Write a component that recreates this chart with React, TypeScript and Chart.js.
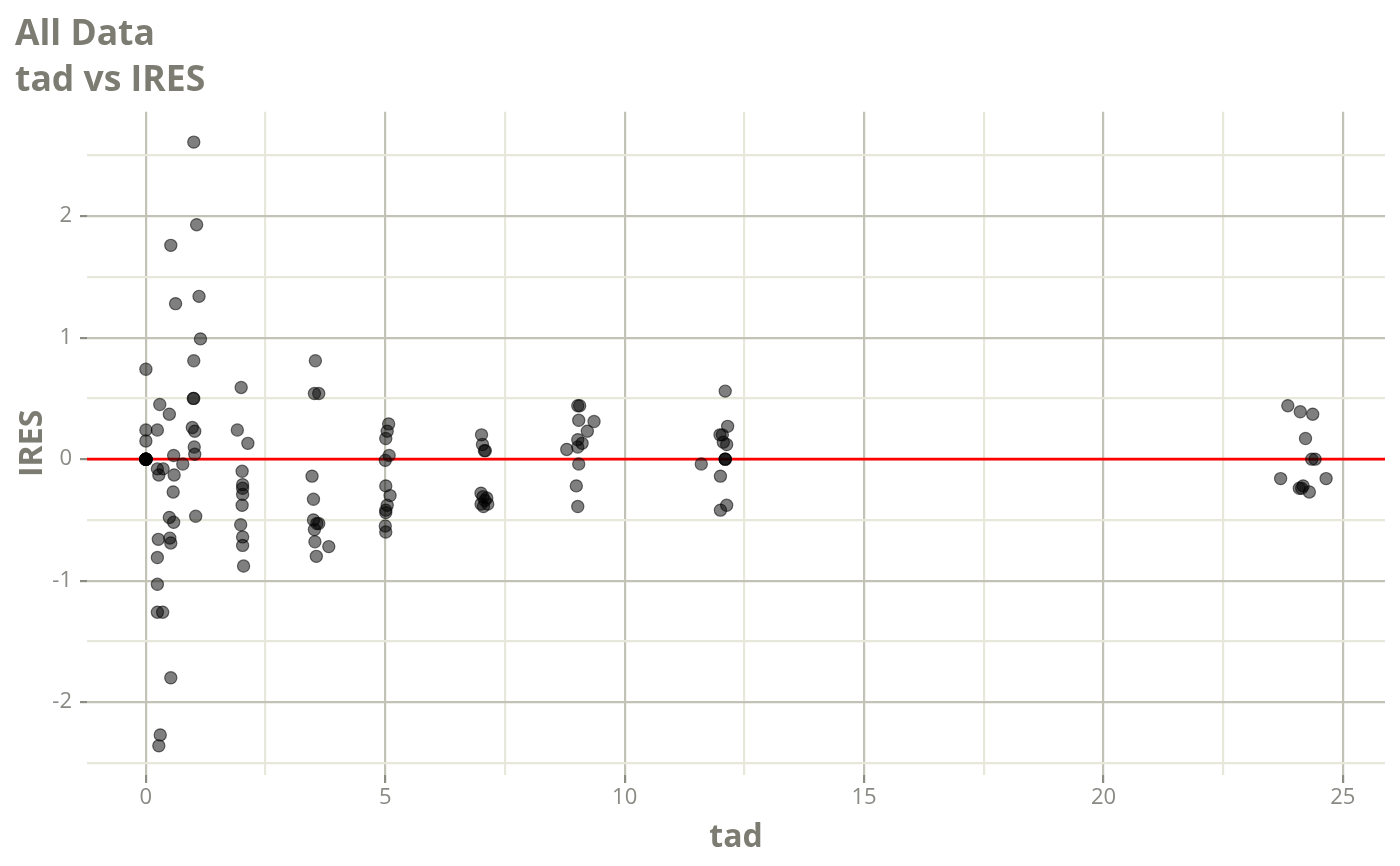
import { useEffect, useRef } from "react"
import { Chart, registerables } from "chart.js"

Chart.register(...registerables)

// time after dose (tad) and individual residuals (IRES)
const tad = [
  0, 0, 0, 0, 0, 0, 0, 0, 0, 0, 0,
  0.29, 0.49, 0.24, 0.52, 0.62, 0.58, 0.77, 0.24, 0.36, 0.27, 0.59, 0.57, 0.49, 0.58,
  0.26, 0.5, 0.52, 0.24, 0.24, 0.24, 0.35, 0.52, 0.3, 0.27,
  1.0, 1.06, 1.11, 1.14, 1.0, 0.99, 1.0, 0.97, 1.02, 1.01, 1.02, 1.04,
  1.99, 1.91, 2.13, 2.01, 2.02, 2.02, 2.02, 2.01, 1.98, 2.02, 2.02, 2.04,
  3.54, 3.52, 3.61, 3.47, 3.5, 3.5, 3.57, 3.52, 3.61, 3.53, 3.82, 3.56,
  5.07, 5.04, 5.01, 5.08, 5.0, 5.01, 5.1, 5.04, 5.01, 5.01, 5.0, 5.01,
  7.01, 7.03, 7.07, 7.09, 7.0, 7.04, 7.12, 7.0, 7.05, 7.14, 7.08,
  9.02, 9.06, 9.04, 9.36, 9.22, 9.02, 9.11, 9.02, 8.79, 9.04, 8.99, 9.02,
  12.1, 12.15, 11.99, 12.04, 12.06, 12.13, 12.1, 12.1, 12.1, 11.6, 12.0, 12.13, 12.0,
  23.85, 24.11, 24.37, 24.22, 24.35, 24.42, 23.7, 24.65, 24.09, 24.17, 24.14, 24.3,
]
const ires = [
  0.74, 0.24, 0.15, 0, 0, 0, 0, 0, 0, 0, 0,
  0.45, 0.37, 0.24, 1.76, 1.28, 0.03, -0.04, -0.08, -0.08, -0.13, -0.13, -0.27, -0.48, -0.52,
  -0.66, -0.65, -0.69, -0.81, -1.03, -1.26, -1.26, -1.8, -2.27, -2.36,
  2.61, 1.93, 1.34, 0.99, 0.81, 0.5, 0.5, 0.26, 0.23, 0.1, 0.04, -0.47,
  0.59, 0.24, 0.13, -0.1, -0.21, -0.24, -0.29, -0.38, -0.54, -0.64, -0.71, -0.88,
  0.81, 0.54, 0.54, -0.14, -0.33, -0.5, -0.53, -0.58, -0.53, -0.68, -0.72, -0.8,
  0.29, 0.23, 0.17, 0.03, -0.01, -0.22, -0.3, -0.38, -0.42, -0.44, -0.55, -0.6,
  0.2, 0.12, 0.07, 0.07, -0.28, -0.31, -0.32, -0.37, -0.39, -0.37, -0.34,
  0.44, 0.44, 0.32, 0.31, 0.23, 0.16, 0.13, 0.1, 0.08, -0.04, -0.22, -0.39,
  0.56, 0.27, 0.2, 0.2, 0.14, 0.12, 0, 0, 0, -0.04, -0.14, -0.38, -0.42,
  0.44, 0.39, 0.37, 0.17, 0, 0, -0.16, -0.16, -0.24, -0.22, -0.24, -0.27,
]

const xTicks = [0, 2.5, 5, 7.5, 10, 12.5, 15, 17.5, 20, 22.5, 25]
const xTickLabels = ["0", "", "5", "", "10", "", "15", "", "20", "", "25"]
const yTicks = [-2.5, -2, -1.5, -1, -0.5, 0, 0.5, 1, 1.5, 2, 2.5]
const yTickLabels = ["", "-2", "", "-1", "", "0", "", "1", "", "2", ""]
const xRange = [-1.23, 25.88]
const yRange = [-2.6, 2.86]
const refLineY = 0

const FONT = "'Open Sans', 'Noto Sans', sans-serif"
const TITLE_COLOR = "#7c7c72"
const TICK_COLOR = "#8a8a84"
const MAJOR_GRID = "#c2c2b6"
const MINOR_GRID = "#e8e8da"

// horizontal reference line across the plot panel
const refLinePlugin = {
  id: "refLine",
  beforeDatasetsDraw(chart: Chart) {
    const { ctx, chartArea, scales } = chart
    const y = scales.y.getPixelForValue(refLineY)
    ctx.save()
    ctx.strokeStyle = "#ff0000"
    ctx.lineWidth = 2.8
    ctx.beginPath()
    ctx.moveTo(chartArea.left, y)
    ctx.lineTo(chartArea.right, y)
    ctx.stroke()
    ctx.restore()
  },
}

export default function App() {
  const chartRef = useRef<HTMLCanvasElement>(null)
  const chartInstance = useRef<Chart | null>(null)

  useEffect(() => {
    document.body.style.margin = "0"
    if (!chartRef.current) return
    if (chartInstance.current) chartInstance.current.destroy()
    const ctx = chartRef.current.getContext("2d")
    if (!ctx) return

    const points = tad.map((x, i) => ({ x, y: ires[i] }))

    chartInstance.current = new Chart(ctx, {
      type: "scatter",
      data: {
        datasets: [
          {
            data: points,
            backgroundColor: "rgba(0,0,0,0.5)",
            borderColor: "rgba(0,0,0,0.55)",
            borderWidth: 1.2,
            pointRadius: 6.1,
          },
        ],
      },
      plugins: [refLinePlugin],
      options: {
        responsive: false,
        animation: false,
        layout: { padding: { left: 15, right: 15, top: 0, bottom: 0 } },
        plugins: {
          legend: { display: false },
          tooltip: { enabled: false },
          title: {
            display: true,
            text: ["All Data", "tad vs IRES"],
            align: "start",
            color: TITLE_COLOR,
            font: { family: FONT, size: 35.5, weight: "bold", lineHeight: 1.32 },
            padding: { top: 11, bottom: 7 },
          },
        },
        scales: {
          x: {
            type: "linear",
            min: xRange[0],
            max: xRange[1],
            afterBuildTicks: (axis) => {
              axis.ticks = xTicks.map((v) => ({ value: v }))
            },
            afterFit: (axis) => {
              axis.height = 91
            },
            ticks: {
              autoSkip: false,
              maxRotation: 0,
              padding: 2,
              color: TICK_COLOR,
              font: { family: FONT, size: 22 },
              callback: (_v, i) => xTickLabels[i],
            },
            grid: {
              lineWidth: 2.2,
              color: (c) => (xTickLabels[c.index] ? MAJOR_GRID : MINOR_GRID),
              tickColor: (c) => (xTickLabels[c.index] ? "#8c8c84" : "rgba(0,0,0,0)"),
              tickLength: 8,
              tickWidth: 2.2,
            },
            border: { display: false },
            title: {
              display: true,
              text: "tad",
              color: TITLE_COLOR,
              font: { family: FONT, size: 32, weight: "bold", lineHeight: 1.2 },
              padding: { top: 0, bottom: 9 },
            },
          },
          y: {
            type: "linear",
            min: yRange[0],
            max: yRange[1],
            afterBuildTicks: (axis) => {
              axis.ticks = yTicks.map((v) => ({ value: v }))
            },
            afterFit: (axis) => {
              axis.width = 72
            },
            ticks: {
              autoSkip: false,
              padding: 8,
              color: TICK_COLOR,
              font: { family: FONT, size: 22 },
              callback: (_v, i) => yTickLabels[i],
            },
            grid: {
              lineWidth: 2.2,
              color: (c) => (yTickLabels[c.index] ? MAJOR_GRID : MINOR_GRID),
              tickColor: (c) => (yTickLabels[c.index] ? "#8c8c84" : "rgba(0,0,0,0)"),
              tickLength: 7,
              tickWidth: 2.2,
            },
            border: { display: false },
            title: {
              display: true,
              text: "IRES",
              color: TITLE_COLOR,
              font: { family: FONT, size: 32, weight: "bold", lineHeight: 1 },
              padding: { top: 2, bottom: 0 },
            },
          },
        },
      },
    })

    return () => {
      if (chartInstance.current) {
        chartInstance.current.destroy()
        chartInstance.current = null
      }
    }
  }, [])

  return <canvas ref={chartRef} width={1400} height={866} style={{ display: "block" }} />
}
